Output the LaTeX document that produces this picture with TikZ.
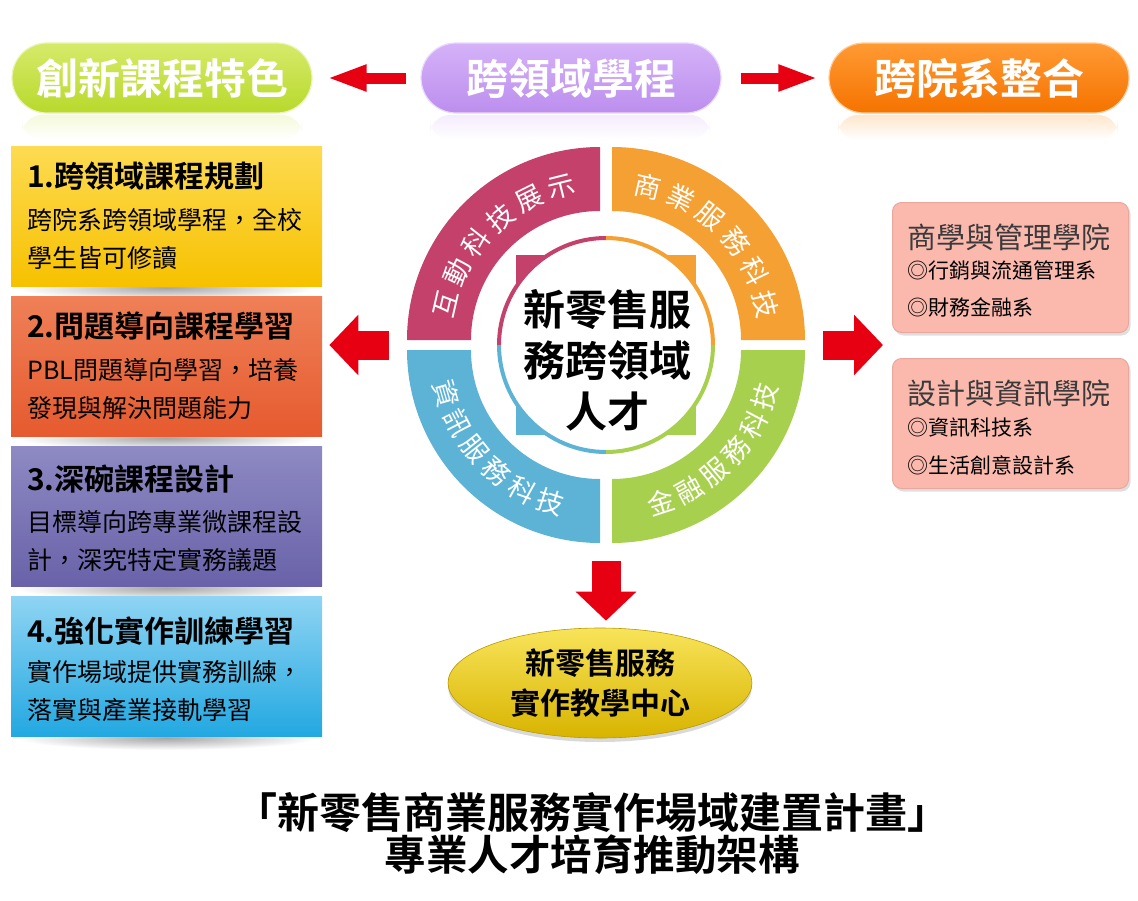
\documentclass[tikz,border=0pt]{standalone}
\usepackage{fontspec}
\setmainfont{Noto Sans CJK TC}[BoldFont={Noto Sans CJK TC Bold}]
\usetikzlibrary{shapes.geometric,fadings,shadows,calc,arrows.meta}
\definecolor{arrowred}{HTML}{E60012}
\definecolor{qpink}{HTML}{C4416B}
\definecolor{qorange}{HTML}{F5A033}
\definecolor{qblue}{HTML}{5CB3D6}
\definecolor{qgreen}{HTML}{A8D04F}
\definecolor{pillgreenT}{HTML}{D6EA6A}
\definecolor{pillgreenB}{HTML}{B8D92C}
\definecolor{pillpurpT}{HTML}{D5B2F8}
\definecolor{pillpurpB}{HTML}{BC8EEE}
\definecolor{pillorT}{HTML}{FF9A33}
\definecolor{pillorB}{HTML}{F57300}
\definecolor{boxyT}{HTML}{FDDB52}
\definecolor{boxyB}{HTML}{F7C100}
\definecolor{boxoT}{HTML}{EF8057}
\definecolor{boxoB}{HTML}{E65A2F}
\definecolor{boxpT}{HTML}{8E8AC3}
\definecolor{boxpB}{HTML}{6962A9}
\definecolor{boxbT}{HTML}{8FD4F3}
\definecolor{boxbB}{HTML}{22A8E1}
\definecolor{salmon}{HTML}{FBB9AE}
\definecolor{salmonedge}{HTML}{E9A79D}
\definecolor{ellT}{HTML}{F8E45A}
\definecolor{ellB}{HTML}{D8B400}
\definecolor{darktext}{HTML}{3A3A3A}
\tikzset{
  pill/.style={rectangle, rounded corners=35pt, minimum width=300pt, minimum height=70pt, inner sep=0pt, text=white, font=\fontsize{42}{48}\selectfont\bfseries, line width=1.2pt},
  leftbox/.style={rectangle, minimum width=311pt, minimum height=140pt, inner sep=0pt, anchor=north west},
  boxtitle/.style={anchor=west, inner sep=0pt, font=\fontsize{30}{36}\selectfont\bfseries},
  boxbody/.style={anchor=west, inner sep=0pt, align=left, font=\fontsize{25}{37.5}\selectfont},
  rightbox/.style={rectangle, rounded corners=9pt, minimum width=236pt, minimum height=130pt, anchor=north west, fill=salmon, draw=salmonedge, line width=1pt, drop shadow={shadow xshift=2pt, shadow yshift=-3pt, opacity=.25}},
  rtitle/.style={anchor=west, inner sep=0pt, text=darktext, font=\fontsize{29}{32}\selectfont},
  rline/.style={anchor=west, inner sep=0pt, font=\fontsize{21}{26}\selectfont},
  ringtxt/.style={text=white, inner sep=0pt, font=\fontsize{27}{30}\selectfont},
  blockarrow/.style={draw=arrowred, line width=29pt, -{Triangle[width=59pt,length=29pt]}},
  toparrow/.style={draw=arrowred, line width=11pt, -{Triangle[width=24pt,length=40pt]}},
  boxshadow/.style={inner color=black!35, outer color=white},
}
\begin{document}
\begin{tikzpicture}[x=1pt,y=-1pt]
\useasboundingbox (0,0) rectangle (1138,900);

% ---------- header pills ----------
\fill[pillgreenT, opacity=.25, path fading=south, rounded corners=20pt] (22,115) rectangle (302,140);
\fill[pillpurpT, opacity=.25, path fading=south, rounded corners=20pt] (430,115) rectangle (710,140);
\fill[pillorT, opacity=.25, path fading=south, rounded corners=20pt] (838,115) rectangle (1118,140);
\node[pill, top color=pillgreenT, bottom color=pillgreenB, draw=pillgreenT!50!white] (p1) at (162,78) {創新課程特色};
\node[pill, top color=pillpurpT, bottom color=pillpurpB, draw=pillpurpT!50!white] (p2) at (571,78) {跨領域學程};
\node[pill, top color=pillorT, bottom color=pillorB, draw=pillorT!50!white] (p3) at (979,78) {跨院系整合};
\draw[toparrow, shorten <=14pt, shorten >=14pt] (p2.west) -- (p1.east);
\draw[toparrow, shorten <=19pt, shorten >=10pt] (p2.east) -- (p3.west);

% ---------- left boxes ----------
\shade[boxshadow] (166,288) ellipse [x radius=150, y radius=12];
\shade[boxshadow] (166,438) ellipse [x radius=150, y radius=12];
\shade[boxshadow] (166,588) ellipse [x radius=150, y radius=12];
\shade[boxshadow] (166,738) ellipse [x radius=150, y radius=12];
\node[leftbox, top color=boxyT, bottom color=boxyB] (b1) at (11,146) {};
\node[leftbox, top color=boxoT, bottom color=boxoB] (b2) at (11,296) {};
\node[leftbox, top color=boxpT, bottom color=boxpB] (b3) at (11,446) {};
\node[leftbox, top color=boxbT, bottom color=boxbB] (b4) at (11,596) {};
\node[boxtitle] (b1t) at ($(b1.north west)+(16,30)$) {1.跨領域課程規劃};
\node[boxbody]  (b1b) at ($(b1.north west)+(16,93)$) {跨院系跨領域學程，全校\\學生皆可修讀};
\node[boxtitle] (b2t) at ($(b2.north west)+(16,30)$) {2.問題導向課程學習};
\node[boxbody]  (b2b) at ($(b2.north west)+(16,93)$) {PBL問題導向學習，培養\\發現與解決問題能力};
\node[boxtitle] (b3t) at ($(b3.north west)+(16,33)$) {3.深碗課程設計};
\node[boxbody]  (b3b) at ($(b3.north west)+(16,95)$) {目標導向跨專業微課程設\\計，深究特定實務議題};
\node[boxtitle] (b4t) at ($(b4.north west)+(16,35)$) {4.強化實作訓練學習};
\node[boxbody]  (b4b) at ($(b4.north west)+(16,95)$) {實作場域提供實務訓練，\\落實與產業接軌學習};

% ---------- central ring ----------
\node[circle, minimum size=398pt, inner sep=0pt] (ring) at (606,345) {};
\begin{scope}[shift={(606,345)}, y=1pt]
  \fill[qpink]   ([shift={(-6,5)}]180:193) arc[start angle=180,end angle=90,radius=193]
                 -- ([shift={(-6,5)}]90:129) arc[start angle=90,end angle=180,radius=129] -- cycle;
  \fill[qorange] ([shift={(6,5)}]90:193) arc[start angle=90,end angle=0,radius=193]
                 -- ([shift={(6,5)}]0:129) arc[start angle=0,end angle=90,radius=129] -- cycle;
  \fill[qblue]   ([shift={(-6,-5)}]180:193) arc[start angle=180,end angle=270,radius=193]
                 -- ([shift={(-6,-5)}]270:129) arc[start angle=270,end angle=180,radius=129] -- cycle;
  \fill[qgreen]  ([shift={(6,-5)}]270:193) arc[start angle=270,end angle=360,radius=193]
                 -- ([shift={(6,-5)}]0:129) arc[start angle=360,end angle=270,radius=129] -- cycle;
  % inner square
  \fill[qpink]   (-90,0) rectangle (0,90);
  \fill[qorange] (0,0) rectangle (90,90);
  \fill[qblue]   (-90,-90) rectangle (0,0);
  \fill[qgreen]  (0,-90) rectangle (90,0);
  % white circle with coloured rim
  \fill[white] (0,0) circle[radius=108];
  \draw[qpink, line width=4pt]   (180:107) arc[start angle=180,end angle=90,radius=107];
  \draw[qorange, line width=4pt] (90:107) arc[start angle=90,end angle=0,radius=107];
  \draw[qblue, line width=4pt]   (180:107) arc[start angle=180,end angle=270,radius=107];
  \draw[qgreen, line width=4pt]  (270:107) arc[start angle=270,end angle=360,radius=107];
  % ring labels
  \foreach \c [count=\i from 0, evaluate=\i as \a using 167-12.6*\i] in {互,動,科,技,展,示}
    \node[ringtxt, rotate=\a-90] (ta\i) at ([shift={(-6,5)}]\a:158) {\c};
  \foreach \c [count=\i from 0, evaluate=\i as \a using 77-12.8*\i] in {商,業,服,務,科,技}
    \node[ringtxt, rotate=\a-90] (tb\i) at ([shift={(6,5)}]\a:158) {\c};
  \foreach \c [count=\i from 0, evaluate=\i as \a using 196+11.2*\i] in {資,訊,服,務,科,技}
    \node[ringtxt, rotate=\a+90] (tc\i) at ([shift={(-6,-5)}]\a:160) {\c};
  \foreach \c [count=\i from 0, evaluate=\i as \a using 288+11*\i] in {金,融,服,務,科,技}
    \node[ringtxt, rotate=\a+90] (td\i) at ([shift={(6,-5)}]\a:160) {\c};
\end{scope}
\node[align=center, inner sep=0pt, font=\fontsize{42}{51}\selectfont\bfseries] (core) at (607,360) {新零售服\\務跨領域\\人才};

% ---------- right boxes ----------
\node[rightbox] (r1) at (892,202) {};
\node[rightbox] (r2) at (892,358) {};
\node[rtitle] (r1t) at ($(r1.north west)+(15,35)$) {商學與管理學院};
\node[rline]  (r1a) at ($(r1.north west)+(15,68)$) {◎行銷與流通管理系};
\node[rline]  (r1b) at ($(r1.north west)+(15,105)$) {◎財務金融系};
\node[rtitle] (r2t) at ($(r2.north west)+(15,35)$) {設計與資訊學院};
\node[rline]  (r2a) at ($(r2.north west)+(15,69)$) {◎資訊科技系};
\node[rline]  (r2b) at ($(r2.north west)+(15,107)$) {◎生活創意設計系};

% ---------- bottom ellipse ----------
\node[ellipse, minimum width=304pt, minimum height=110pt, inner sep=0pt, top color=ellT, bottom color=ellB, draw=ellB!85!black, line width=0.6pt, align=center, font=\fontsize{30}{40}\selectfont\bfseries, drop shadow={shadow xshift=0pt, shadow yshift=-4pt, opacity=.3}] (ell) at (600,683) {新零售服務\\實作教學中心};

% ---------- red block arrows ----------
\draw[blockarrow, shorten <=18pt, shorten >=7pt] (ring.west) -- (ring.west -| b2.east);
\draw[blockarrow, shorten <=18pt, shorten >=9pt] (ring.east) -- (ring.east -| r1.west);
\draw[blockarrow, shorten <=17pt, shorten >=7pt] (ring.south) -- (ring.south |- ell.north);

% ---------- title ----------
\node[align=center, inner sep=0pt, font=\fontsize{42}{42}\selectfont\bfseries] (title) at (592,834) {「新零售商業服務實作場域建置計畫」\\{\fontsize{41.5}{42}\selectfont 專業人才培育推動架構}};
\end{tikzpicture}
\end{document}
